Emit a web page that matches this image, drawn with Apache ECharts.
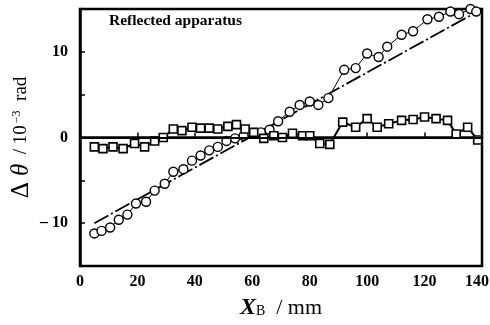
<!DOCTYPE html>
<html>
<head>
<meta charset="utf-8">
<script src="https://cdn.jsdelivr.net/npm/echarts@6/dist/echarts.min.js"></script>
<style>
  html, body { margin: 0; padding: 0; background: #fff; }
  #chart { width: 490px; height: 325px; }
</style>
</head>
<body>
<div id="chart"></div>
<script>
// measured points, open circles
const circleX = [5, 7.5, 10.5, 13.5, 16.5, 19.5, 23, 26, 29.5, 32.5, 36, 39, 42, 45, 48, 51, 54, 57, 60, 63, 66, 69, 73, 76.5, 80, 83, 86.5, 92, 96, 100, 104, 107, 112, 116, 121, 125, 129, 132, 136, 138];
const circleY = [-11.2, -10.9, -10.5, -9.6, -9.0, -7.7, -7.5, -6.2, -5.4, -4.0, -3.7, -2.7, -2.1, -1.5, -1.1, -0.4, -0.1, 0.2, 0.5, 0.6, 0.9, 1.9, 3.0, 3.8, 4.2, 3.8, 4.6, 7.9, 8.1, 9.8, 9.4, 10.6, 12.0, 12.4, 13.8, 14.1, 14.7, 14.4, 15.0, 14.7];
// residuals, open squares
const squareX = [5, 8, 11.5, 15, 19, 22.5, 26, 29, 32.5, 35.5, 39, 42, 45, 48, 51.5, 54.5, 57.5, 60.5, 64, 67.5, 70.5, 74, 77.5, 80, 83.5, 87, 91.5, 96, 100, 103.5, 107.5, 112, 116, 120, 124, 128, 131, 135, 138.5];
const squareY = [-1.1, -1.3, -1.1, -1.3, -0.7, -1.1, -0.4, 0, 1.0, 0.8, 1.2, 1.1, 1.1, 1.0, 1.3, 1.5, 1.0, 0.6, -0.1, 0.2, 0, 0.5, 0.2, 0.2, -0.7, -0.8, 1.8, 1.2, 2.2, 1.2, 1.6, 2.0, 2.1, 2.4, 2.2, 2.0, 0.4, 1.2, -0.3];
// fitted straight line
const fitX = [5, 140];
const fitY = [-10.0, 15.0];

const xTicks = [0, 20, 40, 60, 80, 100, 120, 140];
const yLabels = [-10, 0, 10];

const pairs = (xs, ys) => xs.map((x, i) => [x, ys[i]]);
const serif = 'Liberation Serif';

const chart = echarts.init(document.getElementById('chart'));
chart.setOption({
  animation: false,
  grid: {
    left: 80, right: 8, top: 9, bottom: 59,
    outerBoundsMode: 'none', containLabel: false,
    show: true, borderColor: '#000', borderWidth: 2.5
  },
  graphic: [{
    type: 'text', left: 109, top: 13,
    style: { text: 'Reflected apparatus', font: 'bold 15.5px "Liberation Serif"', fill: '#000' }
  }],
  xAxis: {
    type: 'value', min: 0, max: 140, interval: 20,
    axisLine: { lineStyle: { color: '#000', width: 2.5 } },
    axisTick: { inside: true, length: 5, lineStyle: { color: '#000', width: 1.5 } },
    splitLine: { show: false },
    axisLabel: {
      color: '#000', fontFamily: serif, fontWeight: 'bold', fontSize: 16, margin: 8,
      formatter: v => !xTicks.includes(v) ? '' : (v === 140 ? '{m|140}' : String(v)),
      rich: {
        m: { fontFamily: serif, fontWeight: 'bold', fontSize: 16, color: '#000', padding: [0, 10, 0, 0] }
      }
    },
    name: '{x|X}{b|B}{s|  / mm}',
    nameLocation: 'middle', nameGap: 30,
    nameTextStyle: {
      rich: {
        x: { fontFamily: serif, fontStyle: 'italic', fontWeight: 'bold', fontSize: 24, color: '#000' },
        b: { fontFamily: serif, fontSize: 14, color: '#000', padding: [6, 0, 0, 0] },
        s: { fontFamily: serif, fontSize: 22, color: '#000' }
      }
    }
  },
  yAxis: {
    type: 'value', min: -15, max: 15, interval: 5,
    axisLine: { lineStyle: { color: '#000', width: 2.5 } },
    axisTick: { inside: true, length: 5, lineStyle: { color: '#000', width: 1.5 } },
    splitLine: { show: false },
    axisLabel: {
      color: '#000', fontFamily: serif, fontWeight: 'bold', fontSize: 16, margin: 12,
      formatter: v => yLabels.includes(v) ? (v < 0 ? '\u2013 ' + (-v) : String(v)) : ''
    },
    name: '{d|\u0394 }{t|\u03B8}{s|  / 10}{p|\u22123}{s|  rad}',
    nameLocation: 'middle', nameRotate: 90, nameGap: 46, nameMoveOverlap: false,
    nameTextStyle: {
      rich: {
        d: { fontFamily: serif, fontSize: 25, color: '#000' },
        t: { fontFamily: serif, fontStyle: 'italic', fontSize: 25, color: '#000' },
        s: { fontFamily: serif, fontSize: 19, color: '#000' },
        p: { fontFamily: serif, fontSize: 12, color: '#000', padding: [0, 0, 10, 2] }
      }
    }
  },
  series: [
    {
      type: 'line', data: pairs(fitX, fitY), symbol: 'none', silent: true,
      lineStyle: { color: '#000', width: 1.8, type: [16, 3, 2, 3] }
    },
    {
      type: 'line', data: pairs(circleX, circleY),
      symbol: 'circle', symbolSize: 9,
      itemStyle: { color: '#fff', borderColor: '#000', borderWidth: 1.4 },
      lineStyle: { color: '#000', width: 1 }
    },
    {
      type: 'line', data: pairs(squareX, squareY),
      symbol: 'rect', symbolSize: 8,
      itemStyle: { color: '#fff', borderColor: '#000', borderWidth: 1.6 },
      lineStyle: { color: '#000', width: 2 },
      markLine: {
        silent: true, symbol: 'none', label: { show: false },
        lineStyle: { color: '#000', width: 2.2, type: 'solid' },
        data: [{ yAxis: 0 }]
      }
    }
  ]
});
</script>
</body>
</html>
